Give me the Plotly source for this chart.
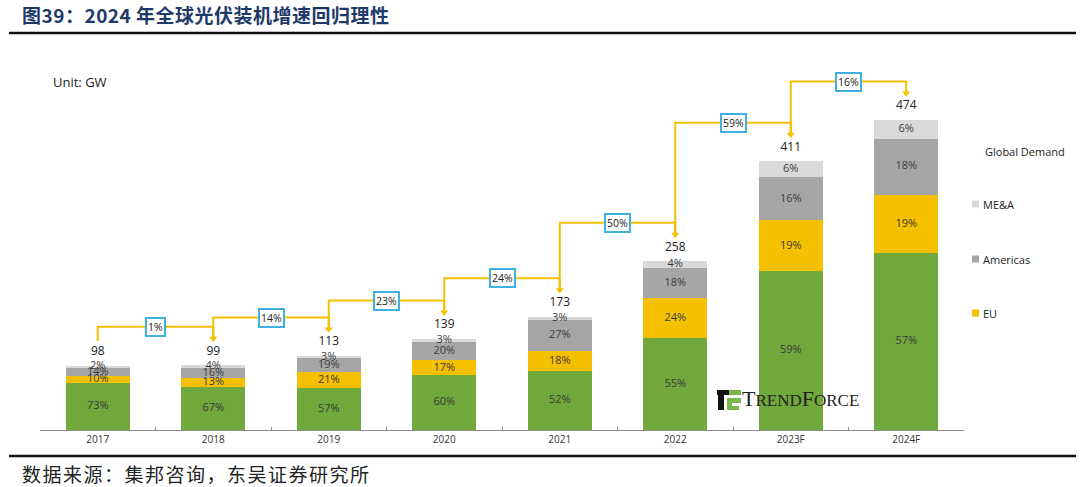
import plotly.graph_objects as go

# ---------------- data ----------------
years = ["2017", "2018", "2019", "2020", "2021", "2022", "2023F", "2024F"]
totals = [98, 99, 113, 139, 173, 258, 411, 474]
share_other = [73, 67, 57, 60, 52, 55, 59, 57]
share_eu = [10, 13, 21, 17, 18, 24, 19, 19]
share_americas = [14, 16, 19, 20, 27, 18, 16, 18]
share_mea = [2, 4, 3, 3, 3, 4, 6, 6]
growth = ["1%", "14%", "23%", "24%", "50%", "59%", "16%"]
legend_names = ["ME&A", "Americas", "EU"]

# ---------------- style ----------------
W, H = 1080, 487
ML, MR, MT, MB = 40, 116, 60, 57
YMAX = 566
C_GREEN = "#70A83B"
C_EU = "#F5C000"
C_AM = "#A6A6A6"
C_MEA = "#D9D9D9"
C_LINE = "#F5C000"
C_BOX = "#3EB1E0"
TXT = "#333333"
FONT = "Open Sans"
LABEL_OFF = 21
TIP_OFF = 38
LEVEL_OFF = 59

pw = W - ML - MR
ph = H - MT - MB


def px(x):
    return (x - ML) / pw


def py(y):
    return (H - MB - y) / ph


series = [
    ("Other", share_other, C_GREEN),
    ("EU", share_eu, C_EU),
    ("Americas", share_americas, C_AM),
    ("ME&A", share_mea, C_MEA),
]

fig = go.Figure()

sums = [sum(s[1][i] for s in series) for i in range(len(years))]
base = [0.0] * len(years)
txt_x, txt_y, txt_t = [], [], []
for name, sh, col in series:
    h = [totals[i] * sh[i] / sums[i] for i in range(len(years))]
    fig.add_trace(go.Bar(x=years, y=h, name=name, marker=dict(color=col, line=dict(width=0)),
                         showlegend=False, hoverinfo="skip"))
    for i in range(len(years)):
        txt_x.append(years[i])
        txt_y.append(base[i] + h[i] / 2)
        txt_t.append(f"{sh[i]}%")
        base[i] += h[i]

fig.add_trace(go.Scatter(x=txt_x, y=txt_y, text=txt_t, mode="text",
                         textfont=dict(family=FONT, size=11, color="#3a3a3a"),
                         showlegend=False, hoverinfo="skip"))

# total labels
fig.add_trace(go.Scatter(x=years, y=[t + LABEL_OFF for t in totals], text=[str(t) for t in totals],
                         mode="text", textfont=dict(family=FONT, size=12, color="#222222"),
                         showlegend=False, hoverinfo="skip"))

# growth connectors
for i in range(len(years) - 1):
    lvl = max(totals[i], totals[i + 1]) + LEVEL_OFF
    xs = [years[i], years[i], years[i + 1], years[i + 1]]
    ys = [totals[i] + TIP_OFF, lvl, lvl, totals[i + 1] + TIP_OFF + 4]
    fig.add_trace(go.Scatter(x=xs, y=ys, mode="lines", line=dict(color=C_LINE, width=2),
                             showlegend=False, hoverinfo="skip"))
    fig.add_annotation(x=i + 0.5, y=lvl, text=growth[i], showarrow=False,
                       bgcolor="white", bordercolor=C_BOX, borderwidth=2, borderpad=1,
                       font=dict(family=FONT, size=10.5, color="#222222"))
fig.add_trace(go.Scatter(x=years[1:], y=[t + TIP_OFF + 3 for t in totals[1:]], mode="markers",
                         marker=dict(symbol="triangle-down", size=7, color=C_LINE),
                         showlegend=False, hoverinfo="skip"))

fig.update_layout(
    width=W, height=H,
    margin=dict(l=ML, r=MR, t=MT, b=MB),
    paper_bgcolor="white", plot_bgcolor="white",
    barmode="stack", bargap=0.445,
    showlegend=False,
    xaxis=dict(type="category", range=[-0.5, 7.5], showgrid=False, showline=True,
               linecolor="#8c8c8c", linewidth=1, ticks="inside", ticklen=3, tickcolor="#8c8c8c",
               tickson="boundaries", tickfont=dict(family=FONT, size=10, color=TXT), fixedrange=True),
    yaxis=dict(range=[0, YMAX], visible=False, fixedrange=True),
)

# manual legend
fig.add_annotation(xref="paper", yref="paper", x=px(1025), y=py(151), xanchor="center", yanchor="middle",
                   text="Global Demand", showarrow=False, font=dict(family=FONT, size=11, color="#222222"))
for name, col, yc in zip(legend_names, [C_MEA, C_AM, C_EU], [204, 259, 313]):
    fig.add_shape(type="rect", xref="paper", yref="paper", x0=px(972), x1=px(979),
                  y0=py(yc - 3.5), y1=py(yc + 3.5), line=dict(width=0), fillcolor=col)
    fig.add_annotation(xref="paper", yref="paper", x=px(981), y=py(yc), xanchor="left", yanchor="middle",
                       text=name, showarrow=False, font=dict(family=FONT, size=11, color="#222222"))

# title / footer
fig.add_annotation(xref="paper", yref="paper", x=px(20), y=py(15), xanchor="left", yanchor="middle",
                   text="<b><span style='letter-spacing:0.5px'>图39：2024 年全球光伏装机增速回归理性</span></b>",
                   showarrow=False,
                   font=dict(family="Noto Sans CJK SC", size=19, color="#1F3A68"))
fig.add_shape(type="line", xref="paper", yref="paper", x0=px(9), x1=px(1076), y0=py(33), y1=py(33),
              line=dict(color="#111111", width=2.5))
fig.add_shape(type="line", xref="paper", yref="paper", x0=px(9), x1=px(1076), y0=py(456), y1=py(456),
              line=dict(color="#111111", width=2.5))
fig.add_annotation(xref="paper", yref="paper", x=px(20), y=py(473), xanchor="left", yanchor="middle",
                   text="<span style='letter-spacing:1.5px'>数据来源：集邦咨询，东吴证券研究所</span>",
                   showarrow=False,
                   font=dict(family="Noto Sans CJK SC", size=19, color="#222222"))

fig.add_annotation(xref="paper", yref="paper", x=px(51), y=py(82), xanchor="left", yanchor="middle",
                   text="Unit: GW", showarrow=False, font=dict(family=FONT, size=13, color="#222222"))

# TrendForce logo
fig.add_annotation(xref="paper", yref="paper", x=px(740), y=py(398), xanchor="left", yanchor="middle",
                   text="T<span style='font-size:17px'>REND</span>F<span style='font-size:17px'>ORCE</span>",
                   showarrow=False, font=dict(family="Liberation Serif", size=22, color="#231F20"))
for (x0, y0, x1, y1, c) in [
    (717, 390, 729, 395, "#111111"),
    (729, 390, 741, 395, "#7AB648"),
    (718, 395, 724, 410, "#111111"),
    (727, 398, 741, 403, "#7AB648"),
    (727, 403, 732, 410, "#7AB648"),
    (732, 406, 739, 410, "#7AB648"),
]:
    fig.add_shape(type="rect", xref="paper", yref="paper", x0=px(x0), x1=px(x1), y0=py(y0), y1=py(y1),
                  line=dict(width=0), fillcolor=c)

fig.write_html("out.html")
